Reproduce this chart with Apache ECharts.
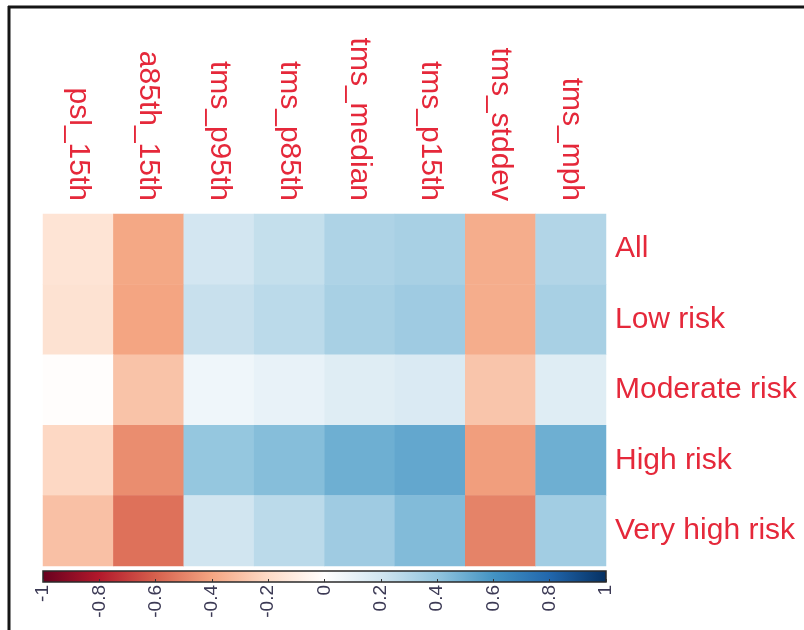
<!DOCTYPE html>
<html>
<head>
<meta charset="utf-8">
<script src="https://cdn.jsdelivr.net/npm/echarts@6/dist/echarts.min.js"></script>
<style>
  html, body { margin: 0; padding: 0; background: #fff; }
  #chart { width: 804px; height: 630px; }
</style>
</head>
<body>
<div id="chart"></div>
<script>
// Variables (columns) and risk groups (rows)
const variables = ['psl_15th', 'a85th_15th', 'tms_p95th', 'tms_p85th', 'tms_median', 'tms_p15th', 'tms_stddev', 'tms_mph'];
const groups = ['All', 'Low risk', 'Moderate risk', 'High risk', 'Very high risk'];

// Correlation per group, one array per row, in variable order
const corrAll      = [-0.15, -0.39, 0.19, 0.24, 0.31, 0.33, -0.37, 0.30];
const corrLow      = [-0.16, -0.40, 0.23, 0.27, 0.33, 0.36, -0.37, 0.33];
const corrModerate = [-0.01, -0.29, 0.07, 0.10, 0.14, 0.16, -0.28, 0.14];
const corrHigh     = [-0.21, -0.47, 0.39, 0.43, 0.49, 0.52, -0.42, 0.49];
const corrVeryHigh = [-0.30, -0.55, 0.20, 0.27, 0.36, 0.44, -0.50, 0.35];
const rows = [corrAll, corrLow, corrModerate, corrHigh, corrVeryHigh];

// Colour bar ticks
const barTicks = [-1, -0.8, -0.6, -0.4, -0.2, 0, 0.2, 0.4, 0.6, 0.8, 1];

// Red-blue diverging palette, evenly spaced from -1 to 1
const rdbu = ['#67001F', '#B2182B', '#D6604D', '#F4A582', '#FDDBC7', '#FFFFFF',
              '#D1E5F0', '#92C5DE', '#4393C3', '#2166AC', '#053061'];

const cells = [];
rows.forEach((vals, r) => vals.forEach((v, c) => cells.push([c, r, v])));

const labelRed = '#e5283a';
const font = 'Liberation Sans, Arial, sans-serif';
const chart = echarts.init(document.getElementById('chart'), null, { renderer: 'canvas' });

chart.setOption({
  backgroundColor: '#ffffff',
  animation: false,
  graphic: [
    { type: 'line', shape: { x1: 8, y1: 7, x2: 804, y2: 7 }, style: { stroke: '#151515', lineWidth: 3 } },
    { type: 'line', shape: { x1: 9, y1: 6, x2: 9, y2: 630 }, style: { stroke: '#151515', lineWidth: 3 } }
  ],
  grid: [
    { left: 43, top: 214, width: 563, height: 352 },
    {
      left: 43, top: 571, width: 563, height: 11, show: true,
      borderColor: '#2a2a2a', borderWidth: 1.5,
      backgroundColor: new echarts.graphic.LinearGradient(0, 0, 1, 0,
        rdbu.map((c, i) => ({ offset: i / (rdbu.length - 1), color: c })))
    }
  ],
  xAxis: [
    {
      type: 'category', gridIndex: 0, position: 'top', data: variables,
      axisLine: { show: false }, axisTick: { show: false }, splitLine: { show: false },
      axisLabel: { rotate: 90, margin: 13, color: labelRed, fontFamily: font, fontSize: 30 }
    },
    {
      type: 'value', gridIndex: 1, min: -1, max: 1, interval: 0.2, position: 'bottom',
      axisLine: { show: false }, splitLine: { show: false },
      axisTick: { show: true, inside: true, length: 3, lineStyle: { color: '#333' } },
      axisLabel: {
        rotate: 90, margin: 3, color: '#3c3a55', fontFamily: font, fontSize: 19,
        formatter: v => String(barTicks[Math.round((v + 1) * 5)])
      }
    }
  ],
  yAxis: [
    {
      type: 'category', gridIndex: 0, position: 'right', inverse: true, data: groups,
      axisLine: { show: false }, axisTick: { show: false }, splitLine: { show: false },
      axisLabel: { margin: 9, color: labelRed, fontFamily: font, fontSize: 30 }
    },
    { type: 'value', gridIndex: 1, min: 0, max: 1, show: false }
  ],
  visualMap: {
    show: false, type: 'continuous', min: -1, max: 1, seriesIndex: 0, dimension: 2,
    inRange: { color: rdbu }
  },
  series: [
    {
      type: 'heatmap', xAxisIndex: 0, yAxisIndex: 0, data: cells,
      itemStyle: { borderWidth: 0 }, emphasis: { disabled: true }
    }
  ]
});
</script>
</body>
</html>
